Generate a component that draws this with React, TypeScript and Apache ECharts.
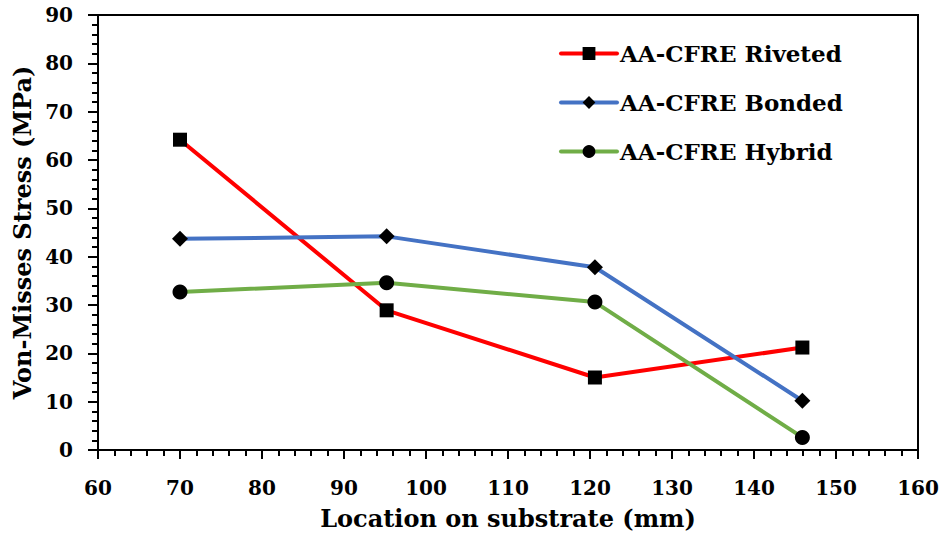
import React, { useEffect, useRef } from "react";
import * as echarts from "echarts";

const locations = [70, 95.2, 120.6, 145.9];
const riveted = [64.2, 28.9, 15.0, 21.2];
const bonded = [43.7, 44.2, 37.8, 10.2];
const hybrid = [32.7, 34.6, 30.6, 2.6];
const seriesNames = ["AA-CFRE Riveted", "AA-CFRE Bonded", "AA-CFRE Hybrid"];

const FONT = "DejaVu Serif";

export default function App() {
  const ref = useRef<HTMLDivElement>(null);
  useEffect(() => {
    if (!ref.current) return;
    const chart = echarts.init(ref.current, null, { renderer: "svg" });
    const pair = (ys: number[]) => ys.map((y, i) => [locations[i], y]);
    const mk = (name: string, ys: number[], color: string, symbol: string, size: number) => ({
      name,
      type: "line",
      data: pair(ys),
      symbol,
      symbolSize: size,
      lineStyle: { color, width: 4 },
      itemStyle: { color: "#000" },
      color,
    });
    chart.setOption({
      animation: false,
      backgroundColor: "#fff",
      textStyle: { fontFamily: FONT, fontWeight: "bold", color: "#000" },
      grid: {
        left: 98,
        right: 26,
        top: 15,
        bottom: 86,
        show: true,
        borderColor: "#000",
        borderWidth: 2,
        outerBoundsMode: "none",
        containLabel: false,
      },
      legend: {
        orient: "vertical",
        left: 554,
        top: 37,
        itemWidth: 56,
        itemHeight: 16,
        itemGap: 26,
        lineStyle: { width: 4, cap: "round" },
        textStyle: { fontFamily: FONT, fontWeight: "bold", fontSize: 23, color: "#000", padding: [0, 0, 0, -2] },
        data: seriesNames,
      },
      xAxis: {
        type: "value",
        min: 60,
        max: 160,
        interval: 10,
        name: "Location on substrate (mm)",
        nameLocation: "middle",
        nameGap: 56,
        nameTextStyle: { fontFamily: FONT, fontWeight: "bold", fontSize: 24, color: "#000" },
        axisLine: { show: true, lineStyle: { color: "#000", width: 2 } },
        axisTick: { show: true, length: 9, lineStyle: { color: "#000", width: 2 } },
        minorTick: { show: true, splitNumber: 5, length: 6, lineStyle: { color: "#000", width: 2 } },
        splitLine: { show: false },
        axisLabel: { fontFamily: FONT, fontWeight: "bold", fontSize: 20, color: "#000", margin: 28 },
      },
      yAxis: {
        type: "value",
        min: 0,
        max: 90,
        interval: 10,
        name: "Von-Misses Stress (MPa)",
        nameLocation: "middle",
        nameGap: 64,
        nameTextStyle: { fontFamily: FONT, fontWeight: "bold", fontSize: 24, color: "#000" },
        axisLine: { show: true, lineStyle: { color: "#000", width: 2 } },
        axisTick: { show: true, length: 10, lineStyle: { color: "#000", width: 2 } },
        minorTick: { show: true, splitNumber: 5, length: 6, lineStyle: { color: "#000", width: 2 } },
        splitLine: { show: false },
        axisLabel: { fontFamily: FONT, fontWeight: "bold", fontSize: 20, color: "#000", margin: 25 },
      },
      series: [
        mk(seriesNames[0], riveted, "#FF0000", "rect", 14),
        mk(seriesNames[1], bonded, "#4472C4", "diamond", 16),
        mk(seriesNames[2], hybrid, "#70AD47", "circle", 15),
      ],
    });
    return () => chart.dispose();
  }, []);
  return <div ref={ref} style={{ width: 944, height: 536, position: "absolute", left: 0, top: 0 }} />;
}
